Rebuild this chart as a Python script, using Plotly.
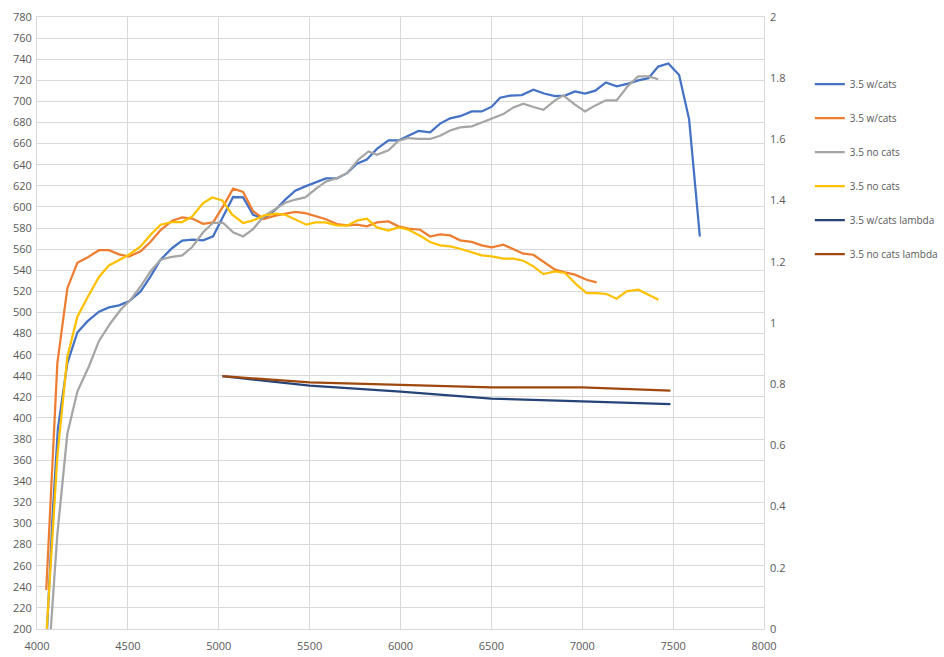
import plotly.graph_objects as go

# ---- data ----
wcats_rpm = [4050, 4085, 4115, 4167, 4222, 4277, 4341, 4396, 4451, 4506, 4570, 4625, 4680, 4744,
             4799, 4854, 4914, 4969, 5024, 5079, 5134, 5189, 5247, 5312, 5366, 5421, 5476, 5541,
             5590, 5650, 5706, 5760, 5815, 5870, 5934, 5989, 6044, 6099, 6163, 6218, 6273, 6328,
             6392, 6447, 6502, 6548, 6603, 6667, 6731, 6790, 6850, 6905, 6960, 7015, 7072, 7130,
             7190, 7253, 7308, 7364, 7418, 7474, 7533, 7588, 7647]
wcats_a = [180, 305, 390, 452, 481, 491.5, 500.7, 504.8, 506.7, 510.5, 519.9, 534.2, 550, 561.1,
           568, 569, 568.3, 572.1, 591, 609.4, 609, 592.6, 588.6, 597.4, 606.9, 615.4, 619.5, 624.2,
           627, 627, 632, 641, 645, 655, 663, 663, 667.5, 672, 670.6, 679, 684, 686,
           690.5, 690.5, 695, 703.5, 705.5, 706, 711, 707.5, 705, 705.5, 709.5, 707.5, 710.2, 718,
           714.3, 716.8, 720, 722, 733, 736, 725, 683, 572]

wcats_b_rpm = [4051, 4112, 4167, 4222, 4277, 4341, 4396, 4451, 4506, 4570, 4625, 4680, 4744, 4799,
               4854, 4914, 4969, 5024, 5079, 5134, 5189, 5247, 5312, 5366, 5421, 5476, 5531, 5586,
               5651, 5706, 5760, 5815, 5870, 5934, 5989, 6044, 6108, 6163, 6218, 6273, 6328, 6392,
               6447, 6502, 6566, 6621, 6676, 6731, 6786, 6850, 6905, 6960, 7024, 7079]
wcats_b = [237, 452, 523, 547, 552, 559, 559, 555, 553, 558, 567, 578, 587, 590,
           589, 584, 585.4, 600.5, 617.3, 614.2, 596, 588.6, 591.7, 593.6, 595.2, 594.2, 591.7, 588.6,
           583.8, 582.5, 583.2, 581.6, 585.4, 586.3, 581.6, 579.4, 578.4, 572, 574, 573, 568.3, 566.8,
           563.6, 561.7, 564.2, 560.1, 555.7, 554.7, 548.4, 540.5, 538, 535.8, 531, 528.5]

nocats_rpm = [4068, 4112, 4167, 4222, 4286, 4341, 4405, 4460, 4515, 4570, 4625, 4680, 4735, 4799,
              4854, 4914, 4969, 5024, 5079, 5134, 5189, 5247, 5312, 5366, 5421, 5476, 5541, 5590,
              5651, 5706, 5769, 5824, 5870, 5934, 5989, 6044, 6099, 6163, 6218, 6273, 6328, 6392,
              6447, 6502, 6566, 6621, 6676, 6731, 6786, 6850, 6896, 6960, 7015, 7070, 7130, 7189,
              7253, 7308, 7364, 7418]
nocats_a = [180, 290, 385, 425, 449, 473, 490, 502.6, 512, 524.7, 539, 550, 552.5, 554,
            562, 576, 585, 585, 576, 572, 579, 591, 598, 604, 607, 609, 618, 624,
            627.4, 632, 645, 652.6, 649.5, 653.6, 662.8, 665.3, 664.4, 664.4, 667.5, 672.5, 675.4, 676.3,
            680, 683.6, 688, 694.3, 697.8, 694.7, 692, 701, 705.7, 697, 690.5, 696, 701, 701,
            715, 723.7, 723.7, 721]

nocats_b_rpm = [4050, 4112, 4167, 4222, 4277, 4341, 4396, 4451, 4506, 4570, 4625, 4680, 4744, 4799,
                4854, 4914, 4964, 5019, 5074, 5134, 5189, 5247, 5312, 5366, 5421, 5482, 5531, 5586,
                5651, 5706, 5760, 5815, 5870, 5934, 5989, 6044, 6108, 6163, 6218, 6273, 6328, 6392,
                6447, 6502, 6566, 6621, 6676, 6731, 6786, 6850, 6905, 6969, 7024, 7079, 7134, 7189,
                7244, 7309, 7364, 7419]
nocats_b = [190, 364, 458, 496, 514, 533.6, 544.6, 550, 554.7, 562.6, 573.7, 583.2, 585.7, 585.7,
            591, 603.7, 609, 606.2, 592.6, 584.8, 587.2, 591.7, 593.6, 592.6, 587.9, 583.2, 585.4, 585.4,
            582.5, 582.2, 587, 588.9, 580.6, 577.5, 580.6, 578.4, 572.7, 566.8, 563.6, 562.6, 560.4, 556.9,
            554.1, 553.1, 551, 551, 549, 543.7, 536.4, 538.9, 537.4, 526.3, 518.4, 518.4, 517.5, 513,
            520, 521.6, 516.8, 512]

lambda_rpm = [5020, 5500, 6000, 6500, 7000, 7485]
wcats_lambda = [0.826, 0.795, 0.776, 0.753, 0.744, 0.735]
nocats_lambda = [0.826, 0.806, 0.798, 0.790, 0.790, 0.779]

names = ["3.5 w/cats", "3.5 w/cats", "3.5 no cats", "3.5 no cats",
         "3.5 w/cats lambda", "3.5 no cats lambda"]
colors = ["#4472C4", "#ED7D31", "#A5A5A5", "#FFC000", "#264478", "#9E480E"]

series = [
    (wcats_rpm, wcats_a, "y"),
    (wcats_b_rpm, wcats_b, "y"),
    (nocats_rpm, nocats_a, "y"),
    (nocats_b_rpm, nocats_b, "y"),
    (lambda_rpm, wcats_lambda, "y2"),
    (lambda_rpm, nocats_lambda, "y2"),
]

fig = go.Figure()
for i, ((xs, ys, ax), nm, col) in enumerate(zip(series, names, colors)):
    fig.add_trace(go.Scatter(x=xs, y=ys, mode="lines", name=nm, yaxis=ax,
                             line=dict(color=col, width=2.25),
                             legendgroup="g%d" % i))

font = dict(family="Open Sans, Liberation Sans, sans-serif", size=11, color="#595959")
legfont = dict(family="Open Sans, Liberation Sans, sans-serif", size=10, color="#595959")
grid = "#D9D9D9"
fig.update_layout(
    width=944, height=657,
    margin=dict(l=37, r=180, t=17, b=28, autoexpand=False),
    paper_bgcolor="white", plot_bgcolor="white",
    font=font,
    showlegend=True,
    legend=dict(x=1.063, xanchor="left", y=0.914, yanchor="top",
                tracegroupgap=15, font=legfont, bgcolor="rgba(0,0,0,0)"),
    xaxis=dict(range=[4000, 8000], dtick=500, tick0=4000, showgrid=True, gridcolor=grid,
               gridwidth=1, zeroline=False, showline=True, linecolor=grid, mirror=True,
               ticks="", tickfont=font, automargin=False, ticklabelstandoff=7),
    yaxis=dict(range=[200, 780], dtick=20, tick0=200, showgrid=True, gridcolor=grid,
               gridwidth=1, zeroline=False, showline=True, linecolor=grid, mirror=True,
               ticks="", tickfont=font, automargin=False, ticklabelstandoff=2),
    yaxis2=dict(range=[0, 2], dtick=0.2, tick0=0, overlaying="y", side="right",
                showgrid=False, zeroline=False, showline=False, ticks="", tickfont=font,
                automargin=False, ticklabelstandoff=5),
)

fig.write_html("out.html")
